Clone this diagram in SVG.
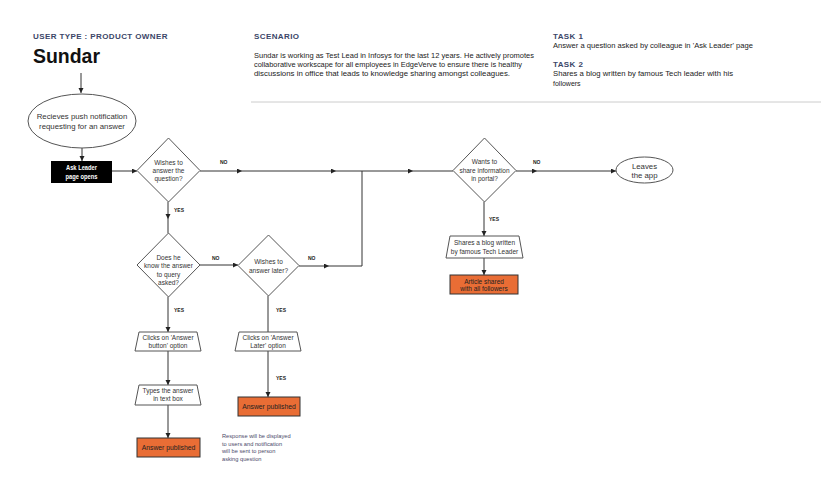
<svg xmlns="http://www.w3.org/2000/svg" width="821" height="489" viewBox="0 0 821 489">
<defs>
<marker id="arr" markerUnits="userSpaceOnUse" markerWidth="6" markerHeight="6" refX="5" refY="2.5" orient="auto"><path d="M0,0 L5,2.5 L0,5 z" fill="#222"/></marker>
<style>
.hd{font-family:"Liberation Sans",Arial,sans-serif;font-weight:bold;font-size:8px;fill:#3b4668;letter-spacing:0.4px}
.bd{font-family:"Liberation Sans",Arial,sans-serif;font-size:7px;fill:#222}
.nt{font-family:"Liberation Sans",Arial,sans-serif;font-size:6.5px;fill:#333;text-anchor:middle}
.lb{font-family:"Liberation Sans",Arial,sans-serif;font-size:5px;font-weight:bold;fill:#222}
.note{font-family:"Liberation Sans",Arial,sans-serif;font-size:5.7px;fill:#4a4a6a}
.shape{fill:#fff;stroke:#555;stroke-width:1}
.org{fill:#E96D35;stroke:#333;stroke-width:1}
.cn{fill:none;stroke:#333;stroke-width:1}
.cm{fill:none;stroke:#333;stroke-width:1;marker-end:url(#arr)}
</style>
</defs>
<rect width="821" height="489" fill="#fff"/>
<g id="header">
<text class="hd" x="33" y="39">USER TYPE :  PRODUCT OWNER</text>
<text x="33" y="63" font-family="Liberation Sans,Arial,sans-serif" font-weight="bold" font-size="20" fill="#111" textLength="67" lengthAdjust="spacingAndGlyphs">Sundar</text>
<text class="hd" x="254" y="39">SCENARIO</text>
<text class="bd" x="254" y="58" textLength="280" lengthAdjust="spacingAndGlyphs">Sundar is working as Test Lead in Infosys for the last 12 years. He actively promotes</text>
<text class="bd" x="254" y="67" textLength="268" lengthAdjust="spacingAndGlyphs">collaborative workscape for all employees in EdgeVerve to ensure there is healthy</text>
<text class="bd" x="254" y="76" textLength="256" lengthAdjust="spacingAndGlyphs">discussions in office that leads to knowledge sharing amongst colleagues.</text>
<text class="hd" x="553" y="39">TASK 1</text>
<text class="bd" x="553" y="48" textLength="200" lengthAdjust="spacingAndGlyphs">Answer a question asked by colleague in 'Ask Leader' page</text>
<text class="hd" x="553" y="67">TASK 2</text>
<text class="bd" x="553" y="76" textLength="180" lengthAdjust="spacingAndGlyphs">Shares a blog written by famous Tech leader with his</text>
<text class="bd" x="553" y="86">followers</text>
<line x1="251" y1="102" x2="821" y2="102" stroke="#ccc" stroke-width="1"/>
</g>
<g id="connectors">
<path class="cm" d="M81,73 V93"/>
<path class="cm" d="M82,148 V161"/>
<path class="cm" d="M112,171 H137"/>
<path class="cm" d="M200,171 H242"/>
<path class="cm" d="M242,171 H336"/>
<path class="cm" d="M336,171 H413"/>
<path class="cn" d="M413,171 H453"/>
<path class="cm" d="M168,202 V219"/>
<path class="cn" d="M168,219 V233"/>
<path class="cm" d="M200,265 H238"/>
<path class="cm" d="M299,266 H329"/>
<path class="cn" d="M329,266 H362 V171"/>
<path class="cm" d="M168,297 V332"/>
<path class="cn" d="M268,296 V333"/>
<path class="cm" d="M168,351 V385"/>
<path class="cm" d="M168,405 V438"/>
<path class="cm" d="M268,351 V397"/>
<path class="cm" d="M516,171 H537"/>
<path class="cm" d="M537,171 H616"/>
<path class="cm" d="M484,202 V236"/>
<path class="cm" d="M484,258 V275"/>
<text class="lb" x="220" y="164">NO</text>
<text class="lb" x="174" y="212">YES</text>
<text class="lb" x="212" y="260">NO</text>
<text class="lb" x="308" y="260">NO</text>
<text class="lb" x="174" y="312">YES</text>
<text class="lb" x="276" y="312">YES</text>
<text class="lb" x="276" y="380">YES</text>
<text class="lb" x="533" y="164">NO</text>
<text class="lb" x="489" y="221">YES</text>
</g>
<g id="n-push">
<ellipse class="shape" cx="82" cy="121" rx="54" ry="27"/>
<text class="nt" x="82" y="119" style="font-size:7.8px">Recieves push notification</text>
<text class="nt" x="82" y="128.5" style="font-size:7.8px">requesting for an answer</text>
</g>
<g id="n-askleader">
<rect x="51" y="161" width="61" height="22" fill="#000"/>
<text class="nt" x="81.5" y="170" style="fill:#fff;font-weight:bold" textLength="31" lengthAdjust="spacingAndGlyphs">Ask Leader</text>
<text class="nt" x="81.5" y="178.5" style="fill:#fff;font-weight:bold" textLength="32" lengthAdjust="spacingAndGlyphs">page opens</text>
</g>
<g id="n-wishes">
<polygon class="shape" points="168.5,138 200,170.5 168.5,202 137,170.5"/>
<text class="nt" x="168.5" y="165">Wishes to</text>
<text class="nt" x="168.5" y="173">answer the</text>
<text class="nt" x="168.5" y="181">question?</text>
</g>
<g id="n-know">
<polygon class="shape" points="168.5,233 200,265 168.5,297 137,265"/>
<text class="nt" x="168.5" y="260">Does he</text>
<text class="nt" x="168.5" y="268">know the answer</text>
<text class="nt" x="168.5" y="277">to query</text>
<text class="nt" x="168.5" y="285">asked?</text>
</g>
<g id="n-later">
<polygon class="shape" points="268.5,235 299,265.5 268.5,296 238,265.5"/>
<text class="nt" x="268.5" y="264">Wishes to</text>
<text class="nt" x="268.5" y="272.5">answer later?</text>
</g>
<g id="n-clicks1">
<polygon class="shape" points="139,332 197,332 201,351 135,351"/>
<text class="nt" x="168" y="339.5">Clicks on 'Answer</text>
<text class="nt" x="168" y="348">button' option</text>
</g>
<g id="n-clicks2">
<polygon class="shape" points="239,332 297,332 301,351 235,351"/>
<text class="nt" x="268" y="339.5">Clicks on 'Answer</text>
<text class="nt" x="268" y="348">Later' option</text>
</g>
<g id="n-types">
<polygon class="shape" points="139,385 197,385 201,405 135,405"/>
<text class="nt" x="168" y="392.5">Types the answer</text>
<text class="nt" x="168" y="401">in text box</text>
</g>
<g id="n-pub1">
<rect class="org" x="137" y="438" width="63" height="19"/>
<text class="nt" x="168.5" y="450" style="fill:#222;font-size:6.8px">Answer published</text>
</g>
<g id="n-pub2">
<rect class="org" x="238" y="397" width="62" height="19"/>
<text class="nt" x="269" y="409" style="fill:#222;font-size:6.8px">Answer published</text>
</g>
<g id="n-note">
<text class="note" x="222" y="438">Response will be displayed</text>
<text class="note" x="222" y="445.5">to users and notification</text>
<text class="note" x="222" y="453">will be sent to person</text>
<text class="note" x="222" y="460.5">asking question</text>
</g>
<g id="n-share">
<polygon class="shape" points="484.5,138 516,170.5 484.5,202 453,170.5"/>
<text class="nt" x="484.5" y="164">Wants to</text>
<text class="nt" x="484.5" y="172.5">share information</text>
<text class="nt" x="484.5" y="181">in portal?</text>
</g>
<g id="n-leaves">
<ellipse class="shape" cx="644.5" cy="170" rx="28.5" ry="13"/>
<text class="nt" x="644.5" y="168.5" style="font-size:7.8px">Leaves</text>
<text class="nt" x="644.5" y="178" style="font-size:7.8px">the app</text>
</g>
<g id="n-blog">
<polygon class="shape" points="450,236 519,236 523,258 446,258"/>
<text class="nt" x="484.5" y="245">Shares a blog written</text>
<text class="nt" x="484.5" y="254">by famous Tech Leader</text>
</g>
<g id="n-article">
<rect class="org" x="450" y="275" width="68" height="19"/>
<text class="nt" x="484" y="283.5" style="fill:#222">Article shared</text>
<text class="nt" x="484" y="291" style="fill:#222">with all followers</text>
</g>
</svg>
